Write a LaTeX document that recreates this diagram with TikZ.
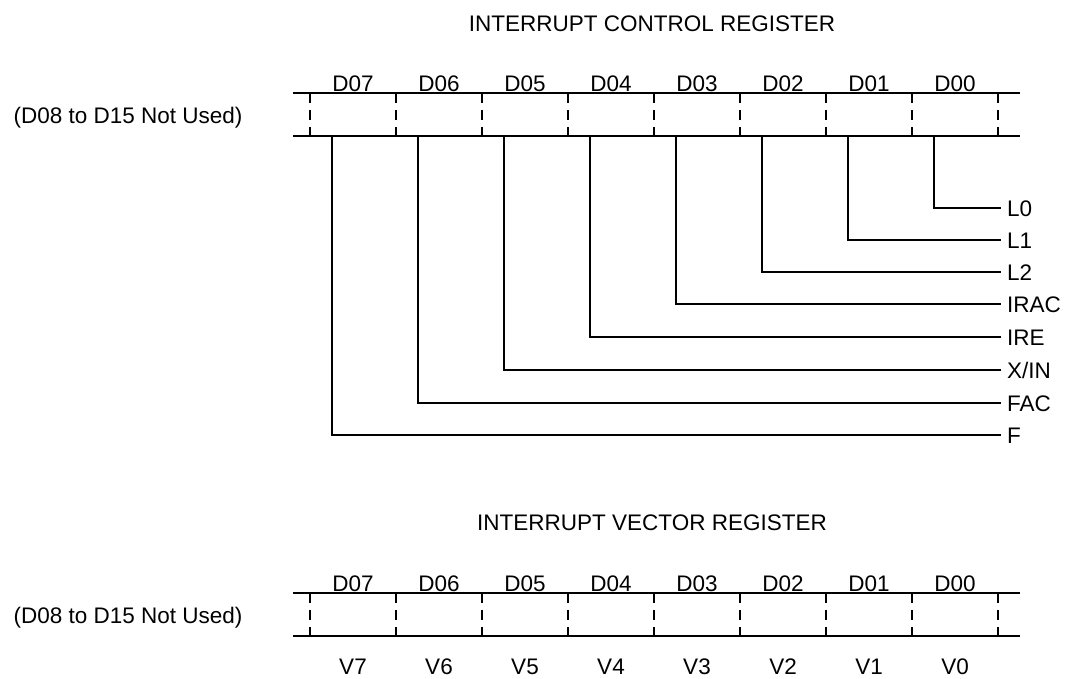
\documentclass[tikz,border=0pt]{standalone}
\usepackage{fontspec}
\setmainfont{Liberation Sans}
\usetikzlibrary{positioning}

\begin{document}
\begin{tikzpicture}[
  x=1pt, y=-1pt,
  line width=1.8pt,
  every node/.style={font=\fontsize{22.5}{27}\selectfont, inner sep=0pt,
                     text height=16pt, text depth=0pt},
  field/.style={anchor=west, inner xsep=6pt, outer sep=0pt},
  sepline/.style={line width=1.6pt, dash pattern=on 10pt off 7pt},
  regline/.style={line width=1.8pt}
]
\useasboundingbox (0,0) rectangle (1065,678);

% interrupt control register
\node (ctltitle) at (652,23)  {INTERRUPT CONTROL REGISTER};
\node (ctlnote)  at (128,115) {(D08 to D15 Not Used)};
\draw[regline] (293,93)  -- (1020,93);
\draw[regline] (293,136) -- (1020,136);
\foreach \x in {310,396,...,998}
  \draw[sepline] (\x,93) -- (\x,136);
\foreach \i [count=\k from 0] in {7,6,...,0} {
  \node (ctl\i) at (353+86*\k,83.5) {D0\i};
  \coordinate (tap\i) at (332+86*\k,136);
}

\node[field] (fL0)   at (1001,208) {L0};
\node[field] (fL1)   at (1001,240) {L1};
\node[field] (fL2)   at (1001,272) {L2};
\node[field] (fIRAC) at (1001,304) {IRAC};
\node[field] (fIRE)  at (1001,337) {IRE};
\node[field] (fXIN)  at (1001,370) {X/IN};
\node[field] (fFAC)  at (1001,403) {FAC};
\node[field] (fF)    at (1001,435) {F};

\draw (tap0) |- (fL0.west);
\draw (tap1) |- (fL1.west);
\draw (tap2) |- (fL2.west);
\draw (tap3) |- (fIRAC.west);
\draw (tap4) |- (fIRE.west);
\draw (tap5) |- (fXIN.west);
\draw (tap6) |- (fFAC.west);
\draw (tap7) |- (fF.west);

% interrupt vector register
\node (vectitle) at (652,522) {INTERRUPT VECTOR REGISTER};
\node (vecnote)  at (128,615) {(D08 to D15 Not Used)};
\draw[regline] (293,593) -- (1020,593);
\draw[regline] (293,636) -- (1020,636);
\foreach \x in {310,396,...,998}
  \draw[sepline] (\x,593) -- (\x,636);
\foreach \i [count=\k from 0] in {7,6,...,0} {
  \node (vec\i) at (353+86*\k,583.5) {D0\i};
  \node (v\i)   at (353+86*\k,666) {V\i};
}
\end{tikzpicture}
\end{document}
